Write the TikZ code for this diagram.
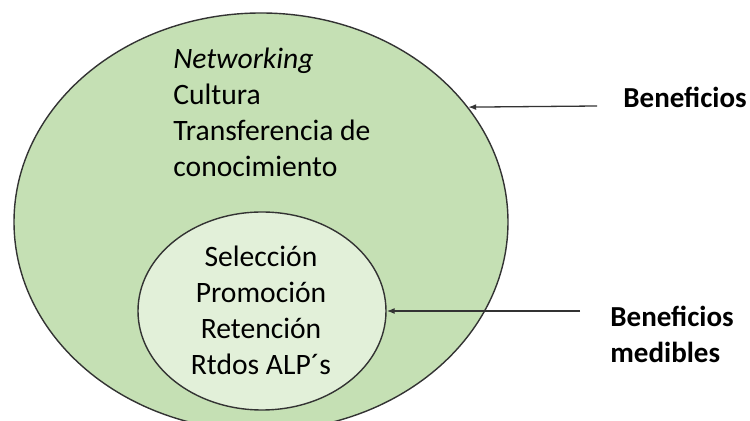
\documentclass[tikz,border=0pt]{standalone}
\usepackage{fontspec}
\setmainfont{Carlito}
\usetikzlibrary{shapes.geometric,arrows.meta}

\newlength{\du}
\setlength{\du}{0.5pt}

\definecolor{outercolor}{rgb}{0.773, 0.878, 0.706}
\definecolor{innercolor}{rgb}{0.886, 0.941, 0.851}
\definecolor{dialinecolor}{rgb}{0.200, 0.200, 0.200}

\begin{document}
\begin{tikzpicture}[yscale=-1,
  blob/.style={ellipse, draw=dialinecolor, line width=1.4\du, inner sep=0pt},
  txt/.style={font=\fontsize{14.8}{18}\selectfont, inner sep=0pt},
  lbl/.style={font=\fontsize{14.5}{18}\selectfont\bfseries, inner sep=0pt},
  pointer/.style={draw=dialinecolor, line width=1.3\du, -{Latex[length=4pt,width=3pt]}}]
\useasboundingbox (0,0) rectangle (750\du,421\du);
\clip (0,0) rectangle (750\du,421\du);
% circles
\node[blob, fill=outercolor, minimum width=494\du, minimum height=418\du] (outer) at (261\du,222\du) {};
\node[blob, fill=innercolor, minimum width=248\du, minimum height=198\du] (inner) at (262\du,311\du) {};
% setfont left to latex (base is the last line)
\node[txt, anchor=base west, align=left] (general) at (173\du,177\du) {\textit{Networking}\\Cultura\\Transferencia de\\conocimiento};
\node[txt, anchor=base, align=center] (medible) at (261\du,375\du) {Selección\\Promoción\\Retención\\Rtdos ALP´s};
\node[lbl, anchor=base west] (benef) at (623\du,108\du) {Beneficios};
\node[lbl, anchor=base west, align=left] (benefmed) at (610\du,363\du) {Beneficios\\medibles};
% arrows
\coordinate (tail1) at (597\du,106\du);
\coordinate (tail2) at (580\du,311\du);
\draw[pointer] (tail1) -- (outer.29.5);
\draw[pointer] (tail2) -- (inner.east);
\end{tikzpicture}
\end{document}
